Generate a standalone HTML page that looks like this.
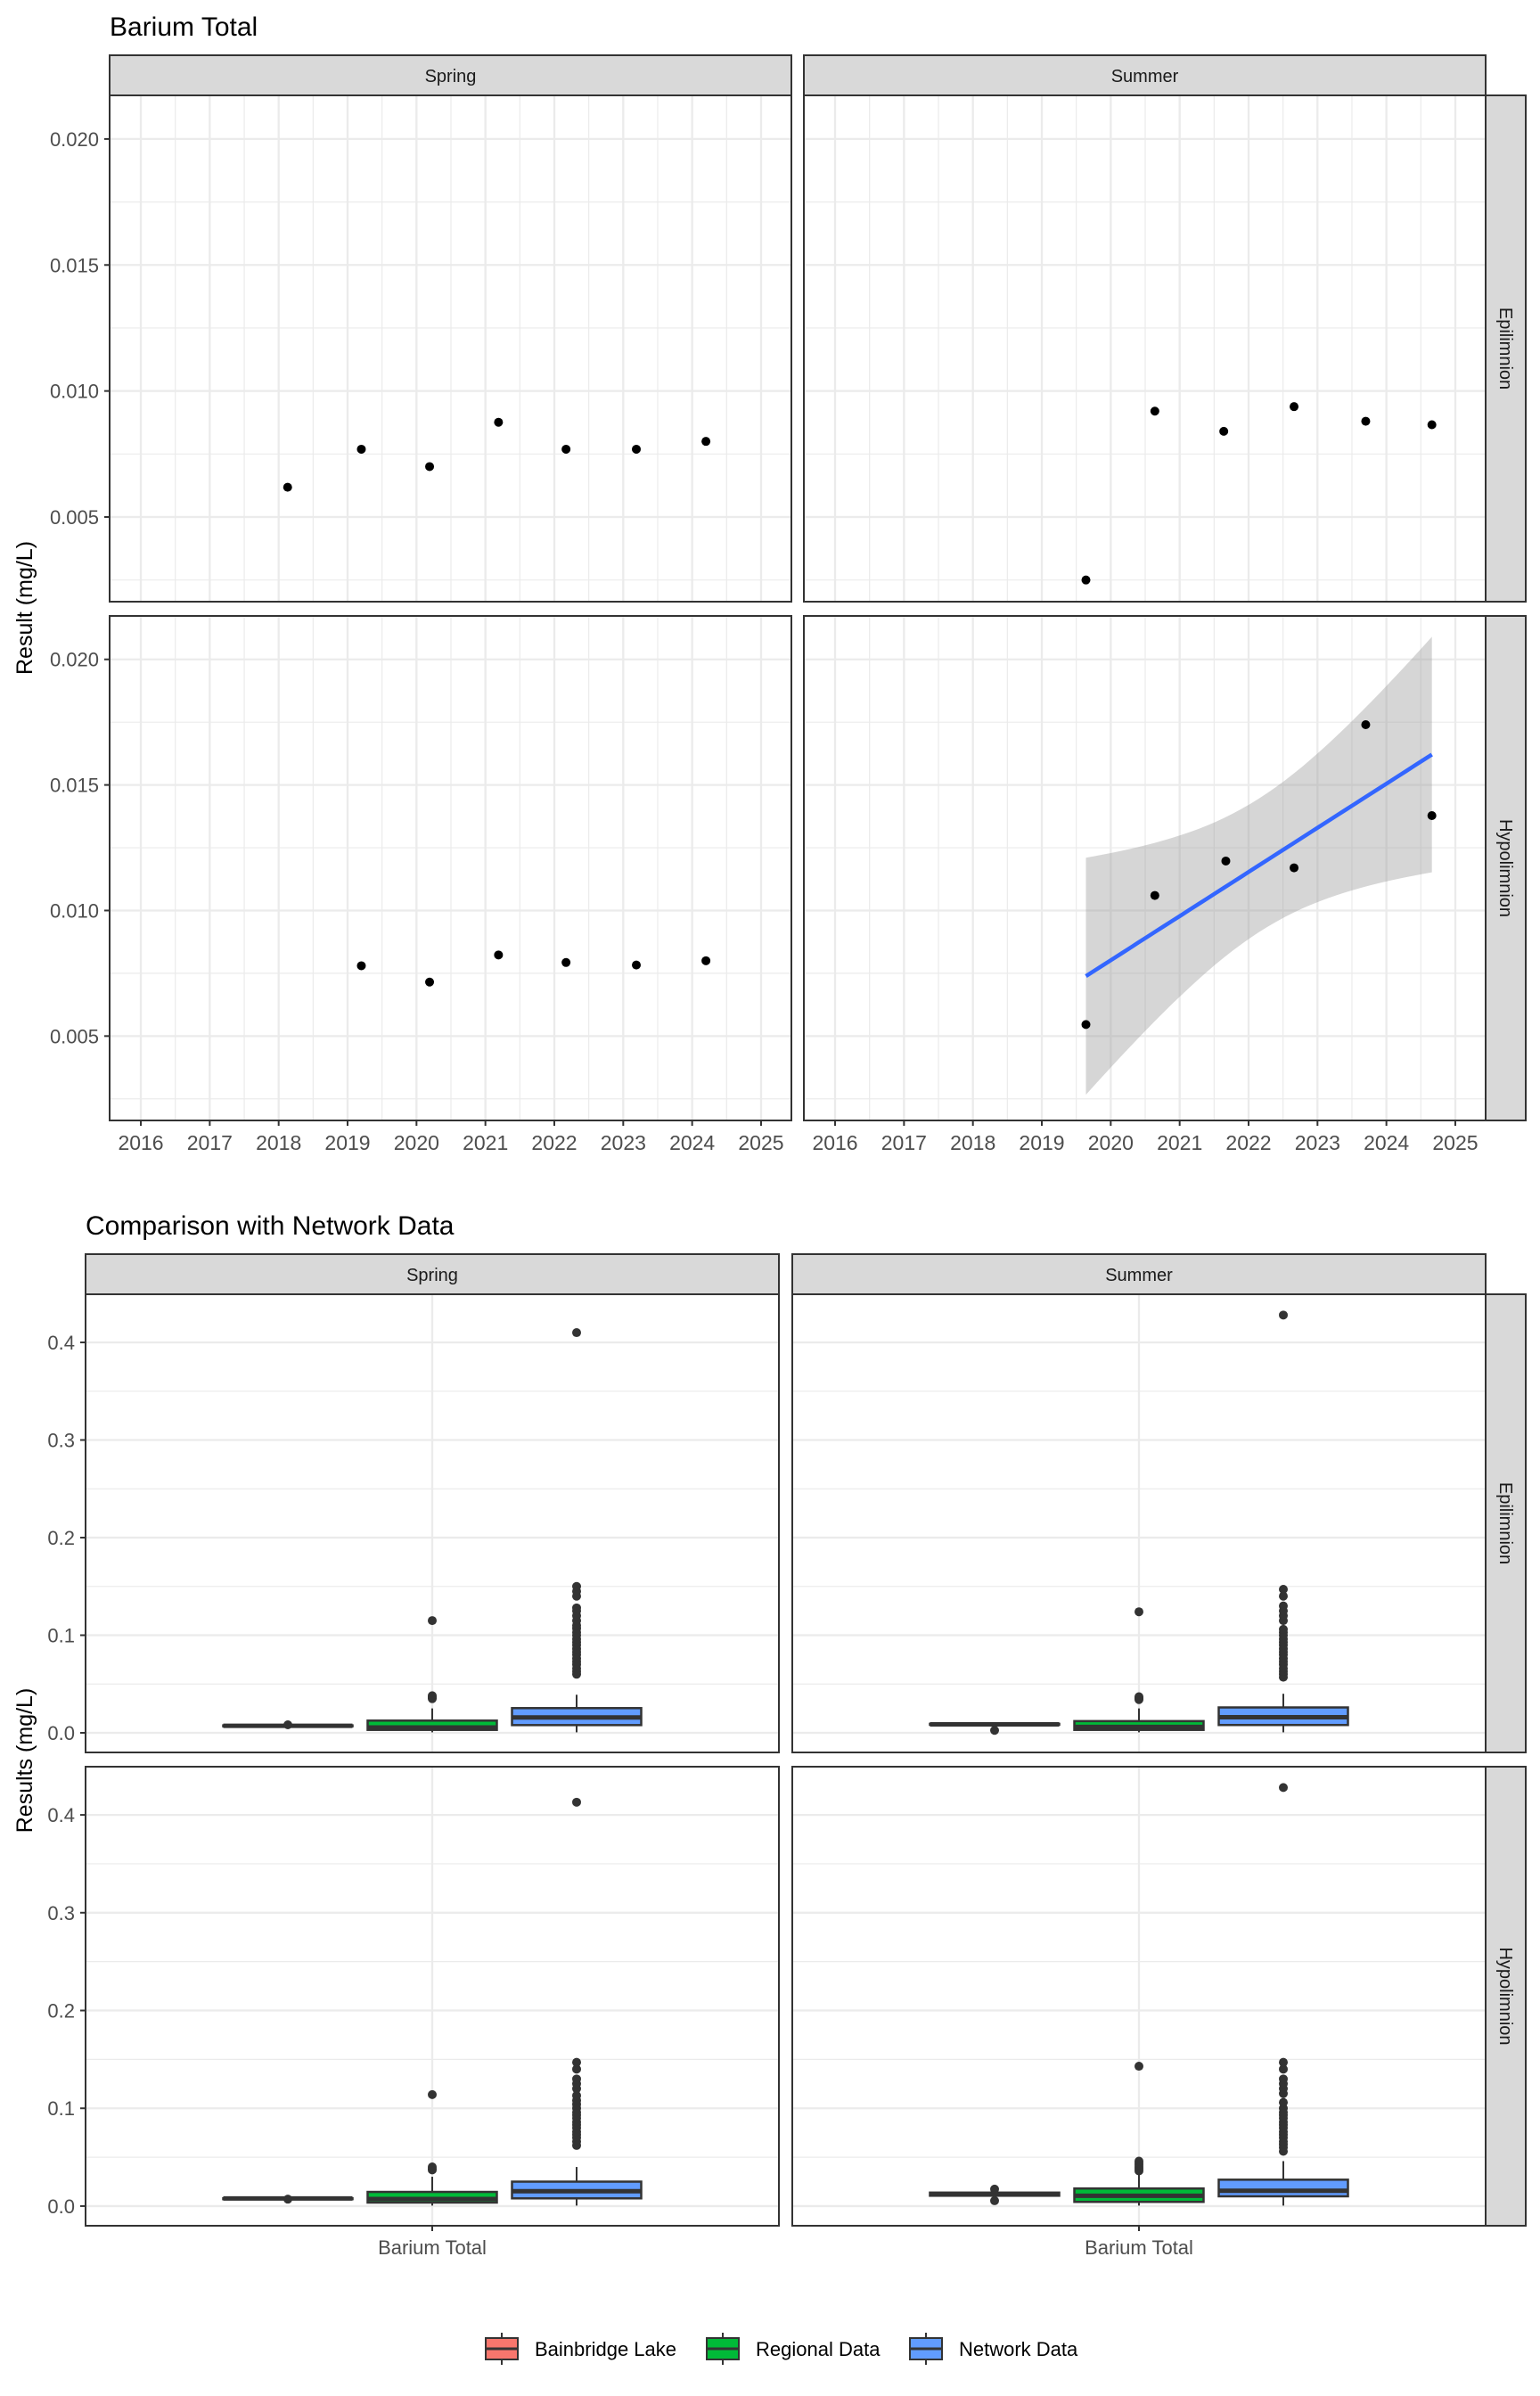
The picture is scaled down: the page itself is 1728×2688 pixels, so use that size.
<!DOCTYPE html>
<html><head><meta charset="utf-8"><style>
html,body{margin:0;padding:0;background:#fff}
svg{display:block;font-family:"Liberation Sans",Arial,sans-serif}
</style></head><body>
<svg id="chart" width="1728" height="2688" viewBox="0 0 1728 2688" xmlns="http://www.w3.org/2000/svg">
<rect width="1728" height="2688" fill="#fff"/>
<text x="123" y="40" font-size="30" fill="#000">Barium Total</text>
<text x="96" y="1385" font-size="30" fill="#000">Comparison with Network Data</text>
<text transform="translate(36,682) rotate(-90)" text-anchor="middle" font-size="25" fill="#000">Result (mg/L)</text>
<text transform="translate(36,1975) rotate(-90)" text-anchor="middle" font-size="25" fill="#000">Results (mg/L)</text>
<g id="g"></g>
</svg>
<script>
// ---- Top chart data ----
const springEpiYears = [2018.13, 2019.2, 2020.19, 2021.19, 2022.17, 2023.19, 2024.2];
const springEpiVals  = [0.00618, 0.00769, 0.0070, 0.00876, 0.00769, 0.00769, 0.0080];
const summerEpiYears = [2019.64, 2020.64, 2021.64, 2022.66, 2023.70, 2024.66];
const summerEpiVals  = [0.0025, 0.0092, 0.0084, 0.00938, 0.0088, 0.00866];
const springHypoYears = [2019.2, 2020.19, 2021.19, 2022.17, 2023.19, 2024.2];
const springHypoVals  = [0.0078, 0.00715, 0.00823, 0.00793, 0.00783, 0.0080];
const summerHypoYears = [2019.64, 2020.64, 2021.67, 2022.66, 2023.70, 2024.66];
const summerHypoVals  = [0.00546, 0.0106, 0.01197, 0.0117, 0.0174, 0.01378];
const yearTicks = [2016, 2017, 2018, 2019, 2020, 2021, 2022, 2023, 2024, 2025];
const topYTicks = [0.005, 0.010, 0.015, 0.020];
const topYLabels = ["0.005", "0.010", "0.015", "0.020"];
// ---- Bottom chart data: [q1, median, q3, whiskerLow, whiskerHigh] ----
const groups = ["Bainbridge Lake", "Regional Data", "Network Data"];
const springEpiBoxes = [[0.0068,0.0072,0.0076,0.0062,0.0088],[0.003,0.0055,0.0125,0.0005,0.025],[0.0079,0.0158,0.0253,0.0005,0.039]];
const springEpiOut = [[0.0082],[0.035,0.036,0.037,0.038,0.115],[0.060,0.063,0.066,0.07,0.073,0.076,0.08,0.083,0.086,0.09,0.093,0.096,0.1,0.103,0.107,0.11,0.115,0.12,0.125,0.128,0.14,0.145,0.15,0.41]];
const summerEpiBoxes = [[0.0084,0.0087,0.0092,0.0083,0.0094],[0.003,0.006,0.012,0.0005,0.025],[0.008,0.016,0.026,0.0005,0.04]];
const summerEpiOut = [[0.0025],[0.034,0.035,0.036,0.037,0.124],[0.057,0.06,0.063,0.066,0.07,0.073,0.076,0.08,0.083,0.086,0.09,0.093,0.096,0.1,0.103,0.106,0.115,0.12,0.125,0.13,0.14,0.147,0.428]];
const springHypoBoxes = [[0.0072,0.0078,0.0080,0.007,0.0082],[0.0036,0.0073,0.0145,0.0005,0.03],[0.0079,0.0152,0.025,0.0005,0.04]];
const springHypoOut = [[0.0071],[0.037,0.038,0.04,0.114],[0.062,0.066,0.07,0.073,0.076,0.08,0.083,0.086,0.09,0.093,0.096,0.1,0.104,0.108,0.113,0.12,0.125,0.13,0.14,0.147,0.413]];
const summerHypoBoxes = [[0.0106,0.0118,0.0138,0.0106,0.0138],[0.0043,0.0106,0.018,0.0005,0.034],[0.010,0.0157,0.027,0.0005,0.046]];
const summerHypoOut = [[0.0055,0.0174],[0.036,0.038,0.04,0.042,0.044,0.046,0.143],[0.056,0.06,0.063,0.066,0.07,0.073,0.076,0.08,0.083,0.086,0.09,0.093,0.096,0.1,0.106,0.115,0.12,0.125,0.13,0.14,0.147,0.428]];
const boxYTicks = [0.0, 0.1, 0.2, 0.3, 0.4];
const boxYLabels = ["0.0", "0.1", "0.2", "0.3", "0.4"];
const groupColors = ["#F8766D", "#00BA38", "#619CFF"];

const NS = "http://www.w3.org/2000/svg";
const root = document.getElementById("g");
function mk(tag, attrs, parent, name) {
  const e = document.createElementNS(NS, tag);
  for (const k in attrs) e.setAttribute(k, attrs[k]);
  
  
  (parent || root).appendChild(e);
  return e;
}
function txt(s, attrs, name) { const e = mk("text", attrs, root, name); e.textContent = s; return e; }

// ---------- TOP CHART ----------
const topCols = [[123, 888], [902, 1667]];
const topRows = [[107, 675], [691, 1257]];
const X0 = 2015.547, X1 = 2025.44, Y0 = 0.00164, Y1 = 0.02173;
function tx(col, v) { const [a, b] = topCols[col]; return a + (v - X0) / (X1 - X0) * (b - a); }
function ty(row, v) { const [a, b] = topRows[row]; return b - (v - Y0) / (Y1 - Y0) * (b - a); }

const topPanels = [
  {c:0, r:0, xs:springEpiYears, ys:springEpiVals, n:"spring-epilimnion"},
  {c:1, r:0, xs:summerEpiYears, ys:summerEpiVals, n:"summer-epilimnion"},
  {c:0, r:1, xs:springHypoYears, ys:springHypoVals, n:"spring-hypolimnion"},
  {c:1, r:1, xs:summerHypoYears, ys:summerHypoVals, n:"summer-hypolimnion", fit:true}
];
topPanels.forEach(p => {
  const [xa, xb] = topCols[p.c], [ya, yb] = topRows[p.r];
  const g = mk("g", {}, root, "panel-" + p.n);
  // minor grid
  for (let i = 0; i < topYTicks.length + 1; i++) {
    const v = (i === 0 ? 0.0025 : topYTicks[i - 1] + 0.0025);
    if (v > Y1) continue;
    const y = ty(p.r, v);
    mk("line", {x1: xa, x2: xb, y1: y, y2: y, stroke: "#EBEBEB", "stroke-width": 1.2}, g, "minor-gridline-y");
  }
  yearTicks.concat([2025]).forEach((yr, i) => {
    const v = yr + 0.5;
    if (v > X1) return;
    const x = tx(p.c, v);
    mk("line", {x1: x, x2: x, y1: ya, y2: yb, stroke: "#EBEBEB", "stroke-width": 1.2}, g, "minor-gridline-x");
  });
  const vx = tx(p.c, 2015.5);
  topYTicks.forEach(v => {
    const y = ty(p.r, v);
    mk("line", {x1: xa, x2: xb, y1: y, y2: y, stroke: "#EBEBEB", "stroke-width": 2.3}, g, "major-gridline-y");
  });
  yearTicks.forEach(yr => {
    const x = tx(p.c, yr);
    mk("line", {x1: x, x2: x, y1: ya, y2: yb, stroke: "#EBEBEB", "stroke-width": 2.3}, g, "major-gridline-x");
  });
  if (p.fit) {
    const n = p.xs.length;
    const mx = p.xs.reduce((a, b) => a + b) / n, my = p.ys.reduce((a, b) => a + b) / n;
    let sxx = 0, sxy = 0;
    for (let i = 0; i < n; i++) { sxx += (p.xs[i] - mx) ** 2; sxy += (p.xs[i] - mx) * (p.ys[i] - my); }
    const b = sxy / sxx, a = my - b * mx;
    let ssr = 0;
    for (let i = 0; i < n; i++) ssr += (p.ys[i] - (a + b * p.xs[i])) ** 2;
    const s = Math.sqrt(ssr / (n - 2)), t = 2.776;
    const xmin = Math.min(...p.xs), xmax = Math.max(...p.xs);
    let up = [], lo = [], line = [];
    for (let k = 0; k <= 40; k++) {
      const xv = xmin + (xmax - xmin) * k / 40;
      const yv = a + b * xv;
      const se = s * Math.sqrt(1 / n + (xv - mx) ** 2 / sxx);
      up.push(tx(p.c, xv).toFixed(1) + "," + ty(p.r, yv + t * se).toFixed(1));
      lo.unshift(tx(p.c, xv).toFixed(1) + "," + ty(p.r, yv - t * se).toFixed(1));
      line.push(tx(p.c, xv).toFixed(1) + "," + ty(p.r, yv).toFixed(1));
    }
    mk("polygon", {points: up.concat(lo).join(" "), fill: "#999", "fill-opacity": 0.4}, g, "confidence-band");
    mk("polyline", {points: line.join(" "), fill: "none", stroke: "#3366FF", "stroke-width": 4.5}, g, "trend-line");
  }
  p.xs.forEach((xv, i) => {
    mk("circle", {cx: tx(p.c, xv), cy: ty(p.r, p.ys[i]), r: 5, fill: "#000"}, g, "data-point");
  });
  mk("rect", {x: xa, y: ya, width: xb - xa, height: yb - ya, fill: "none", stroke: "#333", "stroke-width": 2}, g, "panel-border");
});
// top strips
[["Spring", 0], ["Summer", 1]].forEach(([s, c]) => {
  const [xa, xb] = topCols[c];
  mk("rect", {x: xa, y: 62, width: xb - xa, height: 45, fill: "#D9D9D9", stroke: "#333", "stroke-width": 2}, root, "strip-" + s.toLowerCase());
  txt(s, {x: (xa + xb) / 2, y: 92, "text-anchor": "middle", "font-size": 20, fill: "#1A1A1A"}, "strip-label");
});
[["Epilimnion", 0], ["Hypolimnion", 1]].forEach(([s, r]) => {
  const [ya, yb] = topRows[r];
  mk("rect", {x: 1667, y: ya, width: 45, height: yb - ya, fill: "#D9D9D9", stroke: "#333", "stroke-width": 2}, root, "strip-" + s.toLowerCase());
  txt(s, {transform: `translate(1683,${(ya + yb) / 2}) rotate(90)`, "text-anchor": "middle", "font-size": 20, fill: "#1A1A1A"}, "strip-label");
});
// top axes
topRows.forEach((rr, r) => {
  topYTicks.forEach((v, i) => {
    const y = ty(r, v);
    mk("line", {x1: 117, x2: 123, y1: y, y2: y, stroke: "#333", "stroke-width": 2}, root, "y-tick");
    txt(topYLabels[i], {x: 111, y: y + 8, "text-anchor": "end", "font-size": 22, fill: "#4D4D4D"}, "y-tick-label");
  });
});
topCols.forEach((cc, c) => {
  yearTicks.forEach(yr => {
    const x = tx(c, yr);
    mk("line", {x1: x, x2: x, y1: 1257, y2: 1263, stroke: "#333", "stroke-width": 2}, root, "x-tick");
    txt(String(yr), {x: x, y: 1290, "text-anchor": "middle", "font-size": 23, fill: "#4D4D4D"}, "x-tick-label");
  });
});

// ---------- BOTTOM CHART ----------
const botCols = [[96, 874], [889, 1667]];
const botRows = [[1452, 1966], [1982, 2497]];
const B0 = -0.0201, B1 = 0.4493;
function by(row, v) { const [a, b] = botRows[row]; return b - (v - B0) / (B1 - B0) * (b - a); }
function bx(col, gi) { const [a, b] = botCols[col]; return (a + b) / 2 + (gi - 1) * 162; }
const botPanels = [
  {c:0, r:0, box:springEpiBoxes, out:springEpiOut, n:"spring-epilimnion"},
  {c:1, r:0, box:summerEpiBoxes, out:summerEpiOut, n:"summer-epilimnion"},
  {c:0, r:1, box:springHypoBoxes, out:springHypoOut, n:"spring-hypolimnion"},
  {c:1, r:1, box:summerHypoBoxes, out:summerHypoOut, n:"summer-hypolimnion"}
];
botPanels.forEach(p => {
  const [xa, xb] = botCols[p.c], [ya, yb] = botRows[p.r];
  const g = mk("g", {}, root, "box-panel-" + p.n);
  [0.05, 0.15, 0.25, 0.35, 0.45].forEach(v => {
    const y = by(p.r, v); if (y < ya) return;
    mk("line", {x1: xa, x2: xb, y1: y, y2: y, stroke: "#EBEBEB", "stroke-width": 1.2}, g, "minor-gridline-y");
  });
  boxYTicks.forEach(v => {
    const y = by(p.r, v);
    mk("line", {x1: xa, x2: xb, y1: y, y2: y, stroke: "#EBEBEB", "stroke-width": 2.3}, g, "major-gridline-y");
  });
  const cx = (xa + xb) / 2;
  mk("line", {x1: cx, x2: cx, y1: ya, y2: yb, stroke: "#EBEBEB", "stroke-width": 2.3}, g, "major-gridline-x");
  p.box.forEach((bq, gi) => {
    const x = bx(p.c, gi), w = 145;
    const [q1, md, q3, lo, hi] = bq;
    mk("line", {x1: x, x2: x, y1: by(p.r, hi), y2: by(p.r, q3), stroke: "#333", "stroke-width": 2}, g, "whisker-upper");
    mk("line", {x1: x, x2: x, y1: by(p.r, q1), y2: by(p.r, lo), stroke: "#333", "stroke-width": 2}, g, "whisker-lower");
    const yt = by(p.r, q3), ybm = by(p.r, q1);
    mk("rect", {x: x - w / 2, y: yt, width: w, height: Math.max(ybm - yt, 1), fill: groupColors[gi], stroke: "#333", "stroke-width": 2.5}, g, "box-" + groups[gi].toLowerCase().replace(/ /g, "-"));
    const ym = by(p.r, md);
    mk("line", {x1: x - w / 2, x2: x + w / 2, y1: ym, y2: ym, stroke: "#333", "stroke-width": 5}, g, "median-line");
    p.out[gi].forEach(v => {
      mk("circle", {cx: x, cy: by(p.r, v), r: 5, fill: "#333"}, g, "outlier-point");
    });
  });
  mk("rect", {x: xa, y: ya, width: xb - xa, height: yb - ya, fill: "none", stroke: "#333", "stroke-width": 2}, g, "panel-border");
});
[["Spring", 0], ["Summer", 1]].forEach(([s, c]) => {
  const [xa, xb] = botCols[c];
  mk("rect", {x: xa, y: 1407, width: xb - xa, height: 45, fill: "#D9D9D9", stroke: "#333", "stroke-width": 2}, root, "box-strip-" + s.toLowerCase());
  txt(s, {x: (xa + xb) / 2, y: 1437, "text-anchor": "middle", "font-size": 20, fill: "#1A1A1A"}, "strip-label");
  const cx = (xa + xb) / 2;
  mk("line", {x1: cx, x2: cx, y1: 2497, y2: 2503, stroke: "#333", "stroke-width": 2}, root, "x-tick");
  txt("Barium Total", {x: cx, y: 2529, "text-anchor": "middle", "font-size": 22, fill: "#4D4D4D"}, "x-tick-label");
});
[["Epilimnion", 0], ["Hypolimnion", 1]].forEach(([s, r]) => {
  const [ya, yb] = botRows[r];
  mk("rect", {x: 1667, y: ya, width: 45, height: yb - ya, fill: "#D9D9D9", stroke: "#333", "stroke-width": 2}, root, "box-strip-" + s.toLowerCase());
  txt(s, {transform: `translate(1683,${(ya + yb) / 2}) rotate(90)`, "text-anchor": "middle", "font-size": 20, fill: "#1A1A1A"}, "strip-label");
});
botRows.forEach((rr, r) => {
  boxYTicks.forEach((v, i) => {
    const y = by(r, v);
    mk("line", {x1: 90, x2: 96, y1: y, y2: y, stroke: "#333", "stroke-width": 2}, root, "y-tick");
    txt(boxYLabels[i], {x: 84, y: y + 8, "text-anchor": "end", "font-size": 22, fill: "#4D4D4D"}, "y-tick-label");
  });
});
// legend
const legX = [545, 793, 1021];
groups.forEach((gname, i) => {
  const lg = mk("g", {}, root, "legend-entry");
  const x = legX[i];
  mk("line", {x1: x + 18, x2: x + 18, y1: 2617, y2: 2653, stroke: "#333", "stroke-width": 2}, lg, "legend-whisker");
  mk("rect", {x: x, y: 2623, width: 36, height: 24, fill: groupColors[i], stroke: "#333", "stroke-width": 2}, lg, "legend-key");
  mk("line", {x1: x, x2: x + 36, y1: 2635, y2: 2635, stroke: "#333", "stroke-width": 3}, lg, "legend-median");
  const t = mk("text", {x: x + 55, y: 2643, "font-size": 22, fill: "#000"}, lg, "legend-label");
  t.textContent = gname;
});
</script>
</body></html>
